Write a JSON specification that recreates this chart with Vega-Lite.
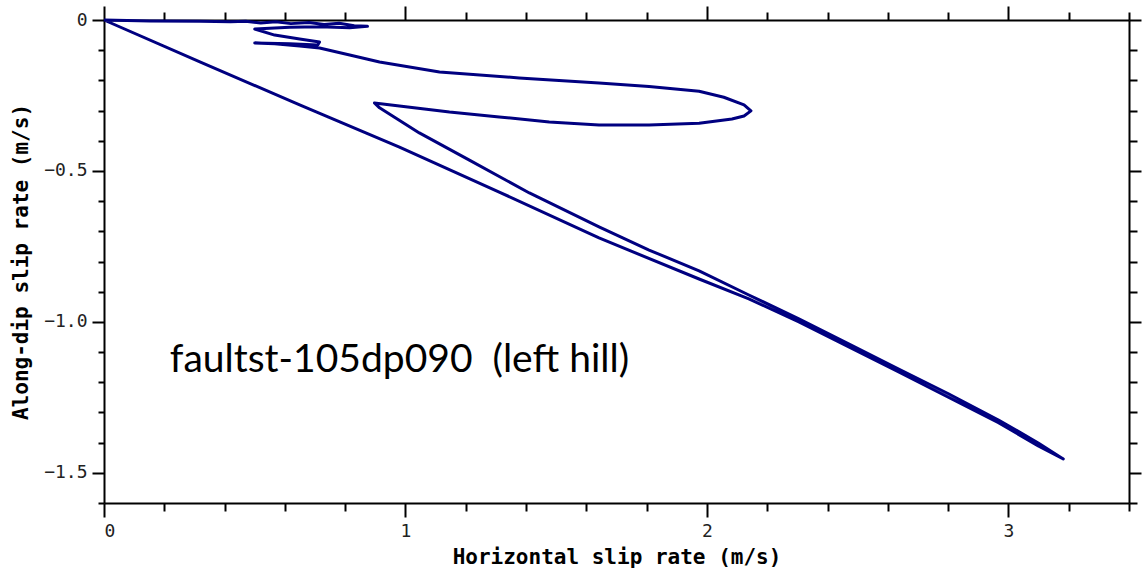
{
  "$schema": "https://vega.github.io/schema/vega-lite/v6.json",
  "autosize": "none",
  "width": 1025,
  "height": 483,
  "padding": {"left": 104, "top": 20, "right": 13, "bottom": 75},
  "background": "white",
  "config": {
    "view": {"stroke": null},
    "axis": {
      "domainColor": "black",
      "domainWidth": 2,
      "tickColor": "black",
      "tickWidth": 2,
      "grid": false,
      "labelFont": "DejaVu Sans Mono",
      "labelFontSize": 18,
      "labelColor": "#222",
      "titleFont": "DejaVu Sans Mono",
      "titleFontSize": 21,
      "titleFontWeight": "bold",
      "titleColor": "black"
    }
  },
  "datasets": {
    "curve": [
      {"i": 0, "h": 0.0, "d": 0.0},
      {"i": 1, "h": 0.152, "d": -0.003},
      {"i": 2, "h": 0.318, "d": -0.004},
      {"i": 3, "h": 0.420, "d": -0.006},
      {"i": 4, "h": 0.470, "d": -0.004},
      {"i": 5, "h": 0.520, "d": -0.010},
      {"i": 6, "h": 0.570, "d": -0.006},
      {"i": 7, "h": 0.620, "d": -0.012},
      {"i": 8, "h": 0.680, "d": -0.008},
      {"i": 9, "h": 0.730, "d": -0.015},
      {"i": 10, "h": 0.780, "d": -0.011},
      {"i": 11, "h": 0.830, "d": -0.019},
      {"i": 12, "h": 0.874, "d": -0.021},
      {"i": 13, "h": 0.815, "d": -0.026},
      {"i": 14, "h": 0.715, "d": -0.022},
      {"i": 15, "h": 0.616, "d": -0.024},
      {"i": 16, "h": 0.500, "d": -0.030},
      {"i": 17, "h": 0.566, "d": -0.050},
      {"i": 18, "h": 0.649, "d": -0.063},
      {"i": 19, "h": 0.715, "d": -0.073},
      {"i": 20, "h": 0.709, "d": -0.083},
      {"i": 21, "h": 0.616, "d": -0.079},
      {"i": 22, "h": 0.500, "d": -0.076},
      {"i": 23, "h": 0.566, "d": -0.079},
      {"i": 24, "h": 0.649, "d": -0.086},
      {"i": 25, "h": 0.715, "d": -0.093},
      {"i": 26, "h": 0.815, "d": -0.116},
      {"i": 27, "h": 0.914, "d": -0.139},
      {"i": 28, "h": 1.113, "d": -0.172},
      {"i": 29, "h": 1.377, "d": -0.192},
      {"i": 30, "h": 1.642, "d": -0.209},
      {"i": 31, "h": 1.808, "d": -0.220},
      {"i": 32, "h": 1.974, "d": -0.236},
      {"i": 33, "h": 2.056, "d": -0.256},
      {"i": 34, "h": 2.123, "d": -0.281},
      {"i": 35, "h": 2.146, "d": -0.301},
      {"i": 36, "h": 2.123, "d": -0.318},
      {"i": 37, "h": 2.083, "d": -0.328},
      {"i": 38, "h": 1.974, "d": -0.342},
      {"i": 39, "h": 1.808, "d": -0.348},
      {"i": 40, "h": 1.642, "d": -0.348},
      {"i": 41, "h": 1.477, "d": -0.338},
      {"i": 42, "h": 1.311, "d": -0.321},
      {"i": 43, "h": 1.146, "d": -0.305},
      {"i": 44, "h": 0.980, "d": -0.285},
      {"i": 45, "h": 0.897, "d": -0.275},
      {"i": 46, "h": 0.914, "d": -0.291},
      {"i": 47, "h": 1.046, "d": -0.374},
      {"i": 48, "h": 1.212, "d": -0.464},
      {"i": 49, "h": 1.411, "d": -0.573},
      {"i": 50, "h": 1.642, "d": -0.685},
      {"i": 51, "h": 1.808, "d": -0.762},
      {"i": 52, "h": 1.974, "d": -0.831},
      {"i": 53, "h": 2.139, "d": -0.911},
      {"i": 54, "h": 2.305, "d": -0.990},
      {"i": 55, "h": 2.470, "d": -1.073},
      {"i": 56, "h": 2.636, "d": -1.156},
      {"i": 57, "h": 2.801, "d": -1.238},
      {"i": 58, "h": 2.967, "d": -1.325},
      {"i": 59, "h": 3.099, "d": -1.401},
      {"i": 60, "h": 3.182, "d": -1.454},
      {"i": 61, "h": 3.099, "d": -1.411},
      {"i": 62, "h": 2.967, "d": -1.334},
      {"i": 63, "h": 2.636, "d": -1.166},
      {"i": 64, "h": 2.305, "d": -1.000},
      {"i": 65, "h": 2.139, "d": -0.924},
      {"i": 66, "h": 1.974, "d": -0.858},
      {"i": 67, "h": 1.642, "d": -0.722},
      {"i": 68, "h": 1.311, "d": -0.570},
      {"i": 69, "h": 0.980, "d": -0.421},
      {"i": 70, "h": 0.649, "d": -0.281},
      {"i": 71, "h": 0.318, "d": -0.139},
      {"i": 72, "h": 0.0, "d": 0.0}
    ],
    "note": [
      {"h": 0.2185, "d": -1.166, "label": "faultst-105dp090\u00a0\u00a0(left hill)"}
    ]
  },
  "layer": [
    {
      "data": {"name": "curve"},
      "mark": {"type": "line", "color": "#000080", "strokeWidth": 3, "strokeJoin": "round"},
      "encoding": {
        "order": {"field": "i", "type": "quantitative"},
        "x": {
          "field": "h", "type": "quantitative",
          "scale": {"domain": [0, 3.4], "nice": false, "zero": false},
          "axis": {
            "orient": "bottom",
            "title": "Horizontal slip rate (m/s)",
            "values": [0, 0.2, 0.4, 0.6, 0.8, 1, 1.2, 1.4, 1.6, 1.8, 2, 2.2, 2.4, 2.6, 2.8, 3, 3.2, 3.4],
            "labelExpr": "abs(datum.value - round(datum.value)) < 1e-6 ? format(datum.value, 'd') : ''",
            "tickSize": {"condition": {"test": "abs(datum.value - round(datum.value)) < 1e-6", "value": 14}, "value": 8},
            "labelPadding": 5,
            "titlePadding": 6
          }
        },
        "y": {
          "field": "d", "type": "quantitative",
          "scale": {"domain": [-1.6, 0], "nice": false, "zero": false},
          "axis": {
            "orient": "left",
            "title": "Along-dip slip rate (m/s)",
            "values": [0, -0.1, -0.2, -0.3, -0.4, -0.5, -0.6, -0.7, -0.8, -0.9, -1, -1.1, -1.2, -1.3, -1.4, -1.5, -1.6],
            "labelExpr": "abs(datum.value * 2 - round(datum.value * 2)) < 1e-6 ? (datum.value === 0 ? '0' : format(datum.value, '.1f')) : ''",
            "tickSize": {"condition": {"test": "abs(datum.value * 2 - round(datum.value * 2)) < 1e-6", "value": 12}, "value": 6},
            "labelPadding": 5,
            "titlePadding": 12
          }
        }
      }
    },
    {
      "data": {"name": "note"},
      "mark": {"type": "text", "font": "Lato", "fontSize": 39, "align": "left", "baseline": "alphabetic", "color": "black"},
      "encoding": {
        "text": {"field": "label"},
        "x": {
          "field": "h", "type": "quantitative",
          "axis": {
            "orient": "top", "title": null, "labels": false,
            "values": [0, 0.2, 0.4, 0.6, 0.8, 1, 1.2, 1.4, 1.6, 1.8, 2, 2.2, 2.4, 2.6, 2.8, 3, 3.2, 3.4],
            "tickSize": {"condition": {"test": "abs(datum.value - round(datum.value)) < 1e-6", "value": 14}, "value": 8}
          }
        },
        "y": {
          "field": "d", "type": "quantitative",
          "axis": {
            "orient": "right", "title": null, "labels": false,
            "values": [0, -0.1, -0.2, -0.3, -0.4, -0.5, -0.6, -0.7, -0.8, -0.9, -1, -1.1, -1.2, -1.3, -1.4, -1.5, -1.6],
            "tickSize": {"condition": {"test": "abs(datum.value * 2 - round(datum.value * 2)) < 1e-6", "value": 12}, "value": 8}
          }
        }
      }
    }
  ],
  "resolve": {"axis": {"x": "independent", "y": "independent"}}
}
